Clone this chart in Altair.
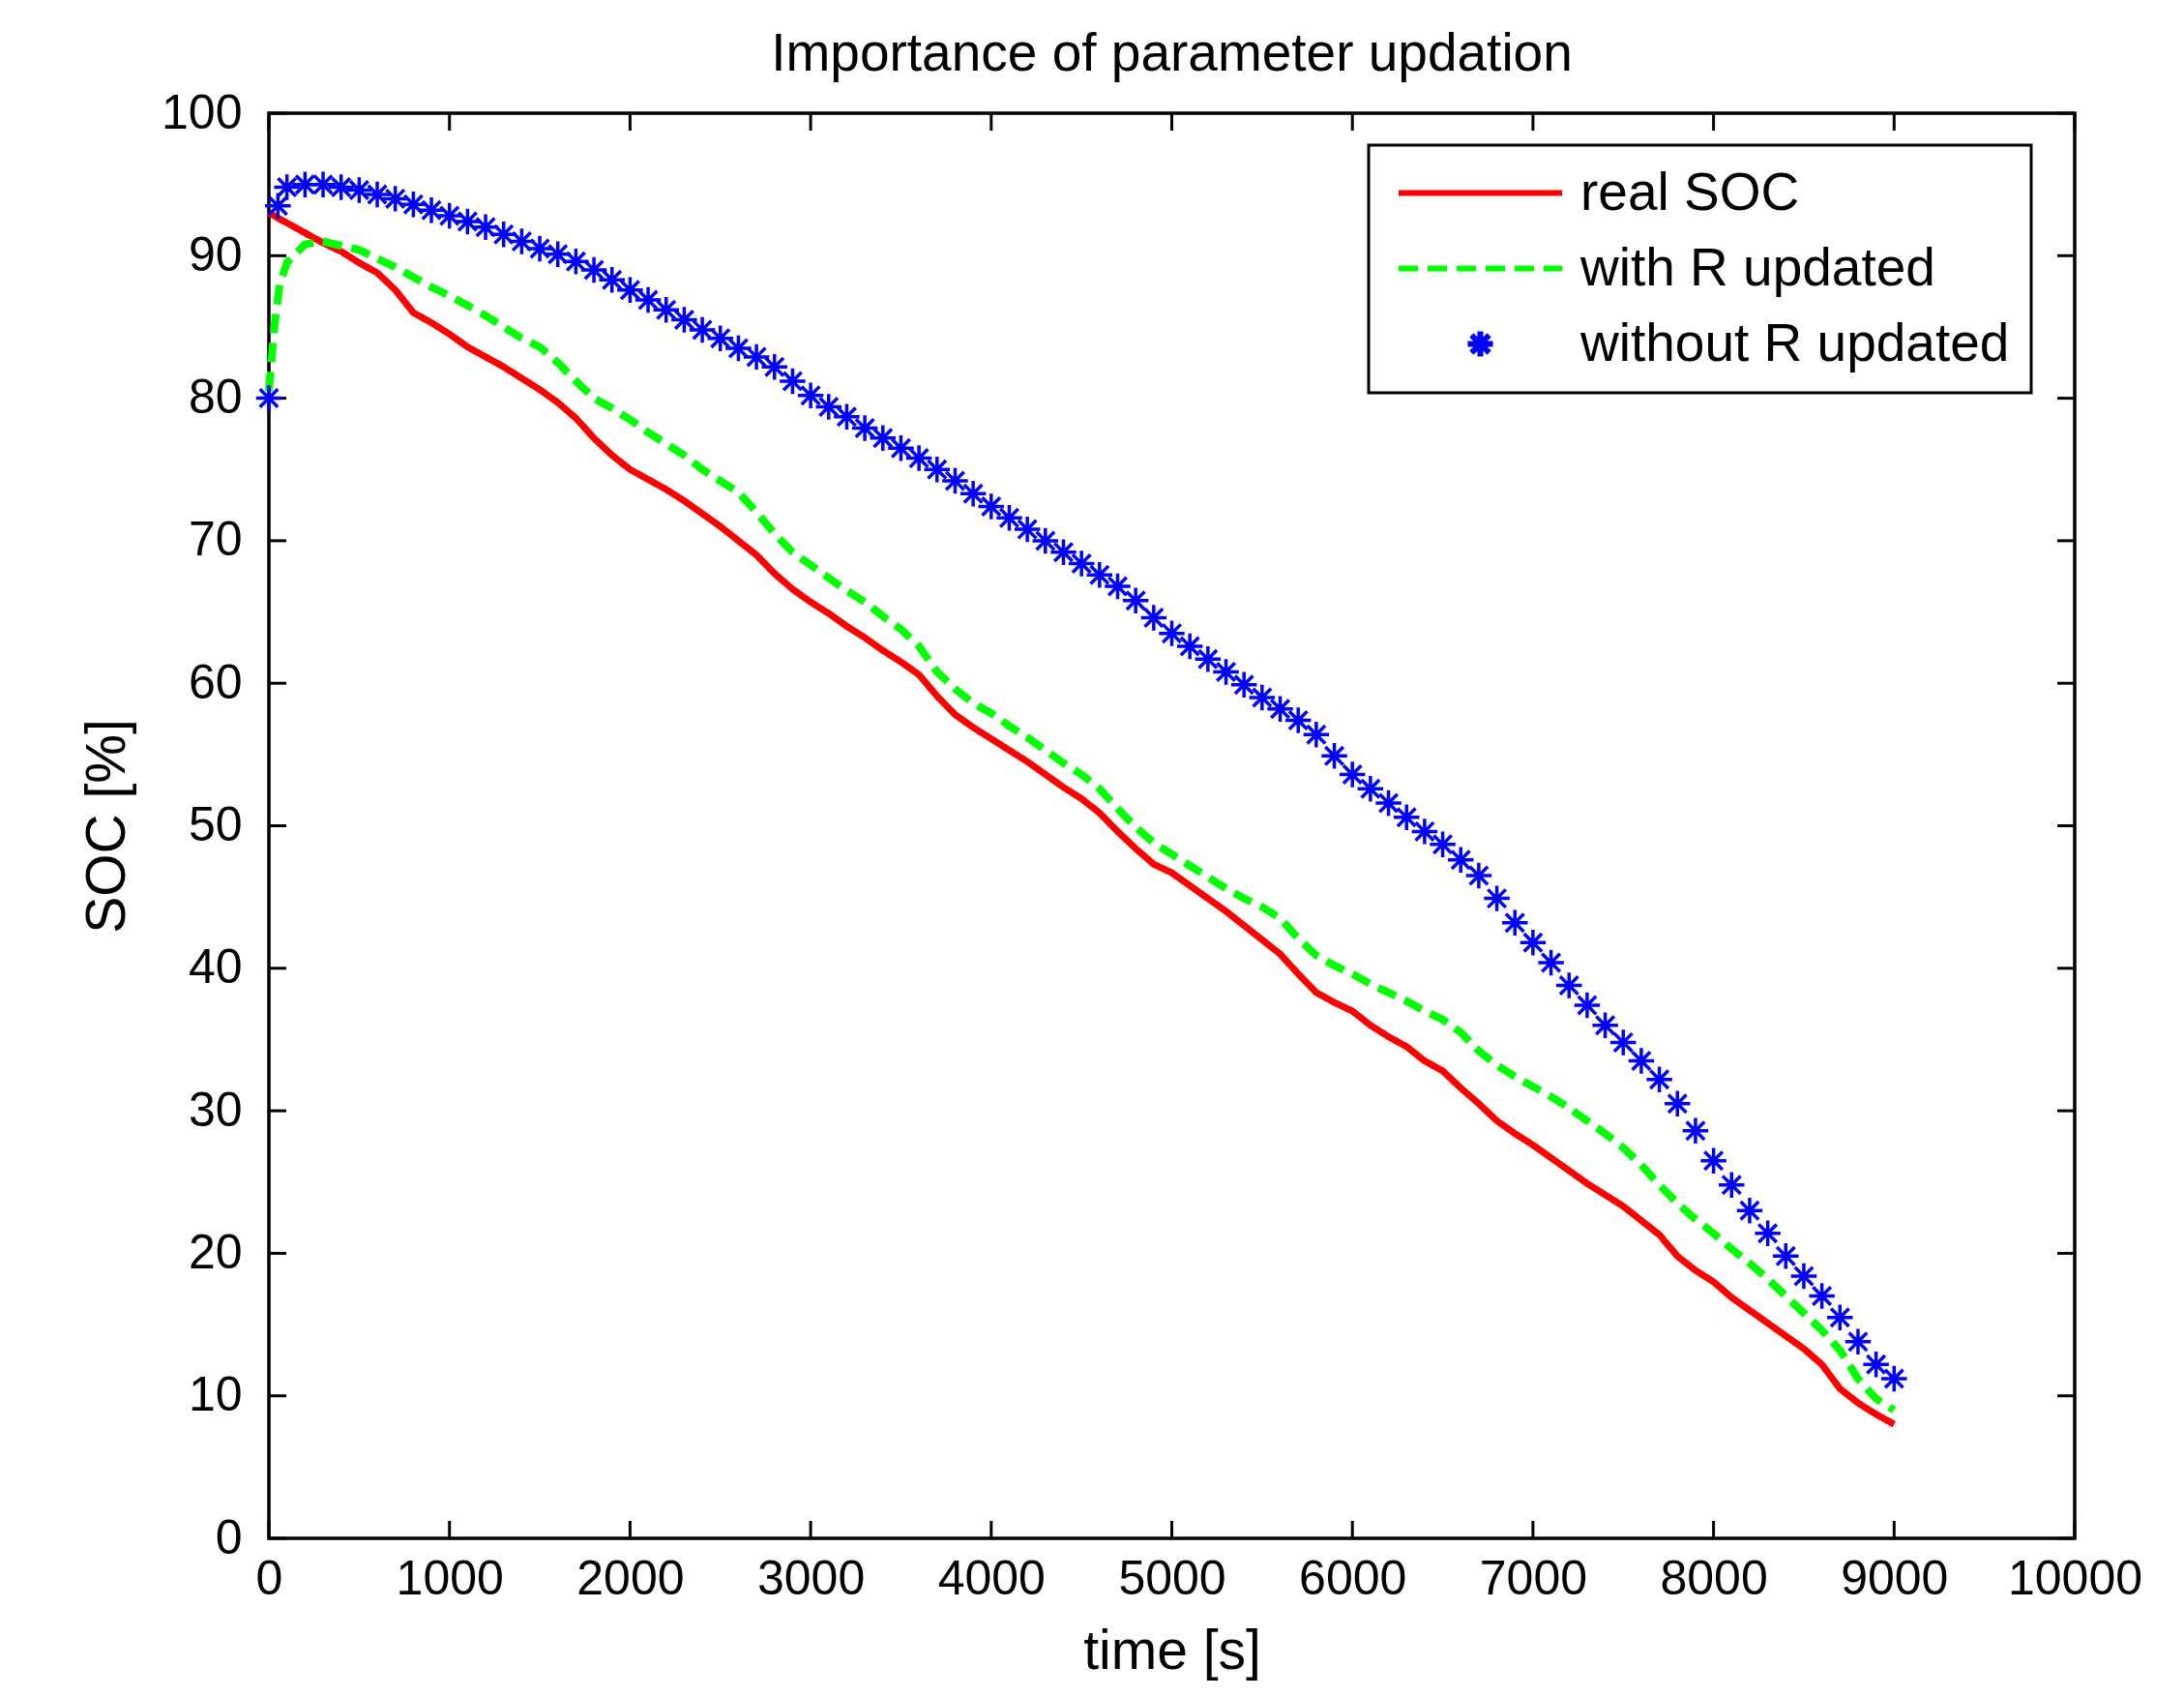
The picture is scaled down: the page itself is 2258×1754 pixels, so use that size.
import altair as alt
import pandas as pd

# ---------------- data ----------------
t_line = [0, 100, 200, 300, 400, 500, 600, 700, 800, 900,
          1000, 1100, 1200, 1300, 1400, 1500, 1600, 1700, 1800, 1900,
          2000, 2100, 2200, 2300, 2400, 2500, 2600, 2700, 2800, 2900,
          3000, 3100, 3200, 3300, 3400, 3500, 3600, 3700, 3800, 3900,
          4000, 4100, 4200, 4300, 4400, 4500, 4600, 4700, 4800, 4900,
          5000, 5100, 5200, 5300, 5400, 5500, 5600, 5700, 5800, 5900,
          6000, 6100, 6200, 6300, 6400, 6500, 6600, 6700, 6800, 6900,
          7000, 7100, 7200, 7300, 7400, 7500, 7600, 7700, 7800, 7900,
          8000, 8100, 8200, 8300, 8400, 8500, 8600, 8700, 8800, 8900, 9000]

real_soc = [93.0, 92.3, 91.6, 90.9, 90.3, 89.5, 88.8, 87.6, 86.0, 85.3,
            84.5, 83.6, 82.9, 82.2, 81.4, 80.6, 79.7, 78.6, 77.2, 76.0,
            75.0, 74.3, 73.6, 72.8, 71.9, 71.0, 70.0, 69.0, 67.7, 66.6,
            65.7, 64.9, 64.0, 63.2, 62.3, 61.5, 60.6, 59.1, 57.8, 56.9,
            56.1, 55.3, 54.5, 53.6, 52.7, 51.9, 50.9, 49.6, 48.4, 47.3,
            46.7, 45.8, 44.9, 44.0, 43.0, 42.0, 41.0, 39.6, 38.3, 37.6,
            37.0, 36.0, 35.2, 34.5, 33.5, 32.8, 31.6, 30.5, 29.3, 28.4,
            27.6, 26.7, 25.8, 24.9, 24.1, 23.3, 22.3, 21.3, 19.8, 18.8,
            18.0, 16.9, 16.0, 15.1, 14.2, 13.3, 12.2, 10.5, 9.5, 8.7, 8.0]

t_green = [0, 30, 60] + t_line[1:]
with_r = [80.5, 85.0, 88.0,
          89.5, 90.8, 91.0, 90.7, 90.4, 89.8, 89.2, 88.5, 87.8,
          87.2, 86.5, 85.8, 85.0, 84.2, 83.6, 82.5, 81.2, 80.0, 79.3,
          78.5, 77.6, 76.8, 76.0, 75.0, 74.2, 73.4, 72.0, 70.5, 69.2,
          68.3, 67.4, 66.5, 65.7, 64.7, 63.8, 62.6, 60.8, 59.6, 58.6,
          57.9, 57.0, 56.2, 55.3, 54.4, 53.6, 52.6, 51.2, 49.9, 48.8,
          48.0, 47.2, 46.4, 45.6, 44.9, 44.3, 43.5, 42.1, 40.9, 40.2,
          39.6, 38.9, 38.3, 37.7, 37.0, 36.4, 35.5, 34.2, 33.2, 32.4,
          31.7, 31.0, 30.2, 29.3, 28.4, 27.4, 26.2, 24.8, 23.5, 22.4,
          21.4, 20.3, 19.3, 18.2, 17.0, 15.8, 14.6, 13.2, 11.2, 9.8, 9.0]

t_blue = [0, 50] + t_line[1:]
without_r = [80.0, 93.5,
             94.8, 95.0, 95.0, 94.8, 94.6, 94.3, 94.0, 93.6, 93.2,
             92.8, 92.4, 92.0, 91.5, 91.0, 90.5, 90.1, 89.6, 89.0, 88.3,
             87.6, 86.9, 86.2, 85.5, 84.8, 84.2, 83.5, 82.9, 82.2, 81.2,
             80.2, 79.4, 78.7, 77.9, 77.2, 76.5, 75.8, 75.0, 74.2, 73.3,
             72.4, 71.6, 70.8, 70.0, 69.2, 68.4, 67.6, 66.8, 65.8, 64.6,
             63.5, 62.6, 61.7, 60.8, 59.9, 59.0, 58.2, 57.4, 56.4, 54.9,
             53.6, 52.6, 51.6, 50.6, 49.6, 48.7, 47.6, 46.5, 44.9, 43.2,
             41.8, 40.4, 38.8, 37.4, 36.0, 34.8, 33.5, 32.2, 30.5, 28.6,
             26.5, 24.8, 23.0, 21.4, 19.8, 18.4, 17.0, 15.5, 13.8, 12.2, 11.2]

series_names = ["real SOC", "with R updated", "without R updated"]
series_colors = ["#ff0000", "#00ff00", "#0000ff"]
x_ticks = [0, 1000, 2000, 3000, 4000, 5000, 6000, 7000, 8000, 9000, 10000]
y_ticks = [0, 10, 20, 30, 40, 50, 60, 70, 80, 90, 100]

# ---------------- tables ----------------
df_red = pd.DataFrame({"t": t_line, "soc": real_soc, "series": series_names[0]})
df_green = pd.DataFrame({"t": t_green, "soc": with_r, "series": series_names[1]})
df_blue = pd.DataFrame({"t": t_blue, "soc": without_r, "series": series_names[2]})
df_xt = pd.DataFrame({"v": x_ticks})
df_yt = pd.DataFrame({"v": y_ticks})

W, H = 1867, 1473
FONT = "Liberation Sans"
TICK = 18
STAR = "M-1,0H1M0,-1V1M-0.7,-0.7L0.7,0.7M-0.7,0.7L0.7,-0.7"
HLINE = "M-6.5,0H6.5"

xscale = alt.Scale(domain=[0, 10000], nice=False)
yscale = alt.Scale(domain=[0, 100], nice=False)
cscale = alt.Scale(domain=series_names, range=series_colors)
dscale = alt.Scale(domain=series_names, range=[[1, 0], [20, 10], [1, 0]])
sscale = alt.Scale(domain=series_names, range=[HLINE, HLINE, STAR])

xaxis = alt.Axis(values=x_ticks, format="d", title="time [s]", grid=False, ticks=False,
                 domain=False, labelPadding=17, titlePadding=22,
                 labelOverlap=False, labelFlush=False,
                 labelFont=FONT, labelFontSize=50, labelColor="black",
                 titleFont=FONT, titleFontSize=57, titleFontWeight="normal", titleColor="black")
yaxis = alt.Axis(values=y_ticks, title="SOC [%]", grid=False, ticks=False,
                 domain=False, labelPadding=28, titlePadding=26,
                 labelOverlap=False, labelFlush=False,
                 labelFont=FONT, labelFontSize=50, labelColor="black",
                 titleFont=FONT, titleFontSize=57, titleFontWeight="normal", titleColor="black")

legend = alt.Legend(
    title=None, orient="none", legendX=1137, legendY=33,
    padding=22, rowPadding=22, symbolSize=676, symbolOffset=66, labelOffset=76,
    symbolStrokeWidth=6, symbolFillColor="transparent",
    labelFontSize=55, labelFont=FONT, labelColor="black", labelLimit=0,
    fillColor="white", strokeColor="black",
)

color_enc = alt.Color("series:N", scale=cscale, legend=legend)
dash_enc = alt.StrokeDash("series:N", scale=dscale, legend=legend)
shape_enc = alt.Shape("series:N", scale=sscale, legend=legend)

red = alt.Chart(df_red).mark_line(strokeWidth=7).encode(
    x=alt.X("t:Q", scale=xscale, axis=xaxis),
    y=alt.Y("soc:Q", scale=yscale, axis=yaxis),
    color=color_enc, strokeDash=dash_enc,
)
green = alt.Chart(df_green).mark_line(strokeWidth=8).encode(
    x="t:Q", y="soc:Q", color=color_enc, strokeDash=dash_enc,
)
blue = alt.Chart(df_blue).mark_point(size=700, filled=False, strokeWidth=3.5,
                                     opacity=1, clip=False).encode(
    x="t:Q", y="soc:Q", color=color_enc, shape=shape_enc,
)

tick_style = dict(color="black", strokeWidth=3)
bt = alt.Chart(df_xt).mark_rule(**tick_style).encode(
    x="v:Q", y=alt.value(H), y2=alt.value(H - TICK))
tt = alt.Chart(df_xt).mark_rule(**tick_style).encode(
    x="v:Q", y=alt.value(0), y2=alt.value(TICK))
lt = alt.Chart(df_yt).mark_rule(**tick_style).encode(
    y="v:Q", x=alt.value(0), x2=alt.value(TICK))
rt = alt.Chart(df_yt).mark_rule(**tick_style).encode(
    y="v:Q", x=alt.value(W), x2=alt.value(W - TICK))

chart = alt.layer(bt, tt, lt, rt, red, green, blue).properties(
    width=W, height=H,
    background="white",
    title=alt.TitleParams("Importance of parameter updation", fontSize=55, font=FONT,
                          fontWeight="normal", color="black", anchor="middle",
                          baseline="alphabetic", offset=-36),
    autosize=alt.AutoSizeParams(type="none"),
    padding={"left": 270, "top": 109, "right": 105, "bottom": 150},
).configure_view(
    stroke="black", strokeWidth=3.5
).configure_legend(
    strokeWidth=3
)

chart.save("out.html", embed_options={"renderer": "svg", "actions": False})
